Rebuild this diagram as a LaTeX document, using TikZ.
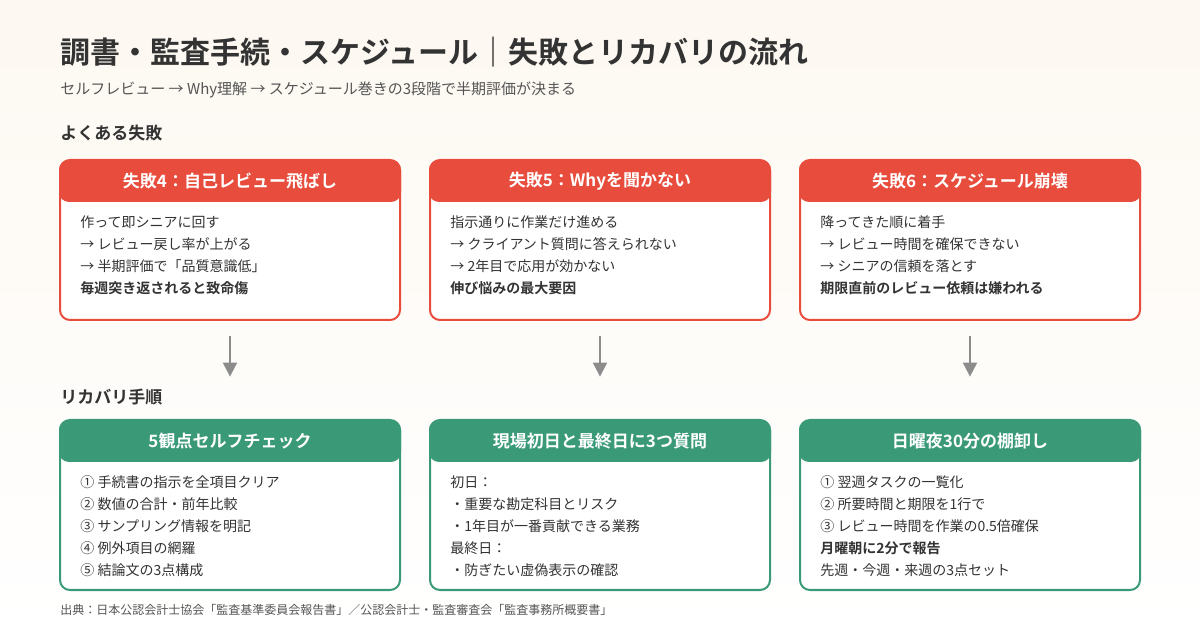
\documentclass[tikz,border=0pt]{standalone}
\usepackage{fontspec}
\setmainfont{Noto Sans CJK JP}
\newfontfamily\boldjp{Noto Sans CJK JP Bold}
\usetikzlibrary{positioning,arrows.meta}
\definecolor{failred}{HTML}{E84C3D}
\definecolor{fixgreen}{HTML}{3A9A78}
\definecolor{bgcream}{HTML}{FDF8F1}
\definecolor{txtgray}{HTML}{555555}
\definecolor{bodytxt}{HTML}{333333}

\begin{document}
\begin{tikzpicture}[x=0.5pt,y=-0.5pt,
  card/.style={draw,line width=1pt,rounded corners=5pt,fill=white,minimum width=170pt,minimum height=80pt,inner sep=0pt},
  failcard/.style={card,draw=failred},
  fixcard/.style={card,draw=fixgreen,minimum height=85pt},
  head/.style={rounded corners=5pt,minimum width=171pt,minimum height=21pt,inner sep=0pt,text=white,font=\boldjp\fontsize{8.5}{10}\selectfont},
  failhead/.style={head,fill=failred},
  fixhead/.style={head,fill=fixgreen},
  body/.style={anchor=north west,align=left,inner sep=0pt,text=bodytxt,font=\fontsize{7}{11}\selectfont},
  section/.style={anchor=west,inner sep=0pt,text=bodytxt,font=\boldjp\fontsize{8.5}{10}\selectfont},
  flow/.style={draw=gray!90,line width=1pt,-{Triangle[width=7pt,length=7pt]},shorten <=7.5pt,shorten >=21.5pt}
]
\fill[top color=bgcream,bottom color=white] (0,0) rectangle (1200,630);
\useasboundingbox (0,0) rectangle (1200,630);

% Title
\node[anchor=west,inner sep=0pt,text=bodytxt,font=\boldjp\fontsize{15}{18}\selectfont] (title) at (60,52) {調書・監査手続・スケジュール｜失敗とリカバリの流れ};
\node[anchor=west,inner sep=0pt,text=txtgray,font=\fontsize{7.5}{9}\selectfont] (sub) at (60,90) {セルフレビュー → Why理解 → スケジュール巻きの3段階で半期評価が決まる};
\node[section] (failsec) at (60,133) {よくある失敗};
\node[section] (fixsec) at (60,397) {リカバリ手順};

% Failure cards
\node[failcard] (f4) at (230,240) {};
\node[failhead] (f4h) at (230,181) {失敗4：自己レビュー飛ばし};
\node[body] (f4b) at (80,215) {作って即シニアに回す\\→ レビュー戻し率が上がる\\→ 半期評価で「品質意識低」\\{\boldjp 毎週突き返されると致命傷}};

\node[failcard] (f5) at (600,240) {};
\node[failhead] (f5h) at (600,181) {失敗5：Whyを聞かない};
\node[body] (f5b) at (450,215) {指示通りに作業だけ進める\\→ クライアント質問に答えられない\\→ 2年目で応用が効かない\\{\boldjp 伸び悩みの最大要因}};

\node[failcard] (f6) at (970,240) {};
\node[failhead] (f6h) at (970,181) {失敗6：スケジュール崩壊};
\node[body] (f6b) at (820,215) {降ってきた順に着手\\→ レビュー時間を確保できない\\→ シニアの信頼を落とす\\{\boldjp 期限直前のレビュー依頼は嫌われる}};

% Recovery cards
\node[fixcard] (r4) at (230,505) {};
\node[fixhead] (r4h) at (230,441) {5観点セルフチェック};
\node[body] (r4b) at (80,475) {① 手続書の指示を全項目クリア\\② 数値の合計・前年比較\\③ サンプリング情報を明記\\④ 例外項目の網羅\\⑤ 結論文の3点構成};

\node[fixcard] (r5) at (600,505) {};
\node[fixhead] (r5h) at (600,441) {現場初日と最終日に3つ質問};
\node[body] (r5b) at (450,475) {初日：\\・重要な勘定科目とリスク\\・1年目が一番貢献できる業務\\最終日：\\・防ぎたい虚偽表示の確認};

\node[fixcard] (r6) at (970,505) {};
\node[fixhead] (r6h) at (970,441) {日曜夜30分の棚卸し};
\node[body] (r6b) at (820,475) {① 翌週タスクの一覧化\\② 所要時間と期限を1行で\\③ レビュー時間を作業の0.5倍確保\\{\boldjp 月曜朝に2分で報告}\\先週・今週・来週の3点セット};

% Flow
\draw[flow] (f4) -- (r4h);
\draw[flow] (f5) -- (r5h);
\draw[flow] (f6) -- (r6h);

\node[anchor=west,inner sep=0pt,text=txtgray,font=\fontsize{6}{7}\selectfont] (src) at (60,610) {出典：日本公認会計士協会「監査基準委員会報告書」／公認会計士・監査審査会「監査事務所概要書」};
\end{tikzpicture}
\end{document}
